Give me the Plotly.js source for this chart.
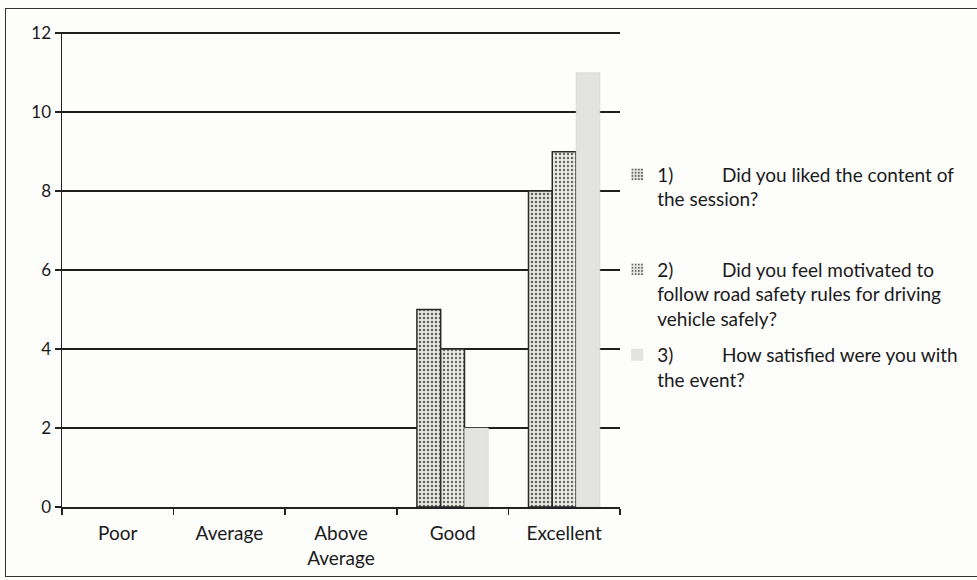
<!DOCTYPE html>
<html>
<head>
<meta charset="utf-8">
<script src="https://cdn.plot.ly/plotly-3.0.1.min.js"></script>
<style>
  html, body { margin: 0; padding: 0; background: #fdfdfc; }
  #frame { position: absolute; left: 5px; top: 8px; width: 990px; height: 569px; border: 1.5px solid #333; box-sizing: border-box; }
  #chart { position: absolute; left: 0; top: 0; width: 977px; height: 580px; }
</style>
</head>
<body>
<div id="frame"></div>
<div id="chart"></div>
<script>
const categories = ['Poor', 'Average', 'Above<br>Average', 'Good', 'Excellent'];
const q1Name = '1)&nbsp;&nbsp;&nbsp;&nbsp;&nbsp;&nbsp;&nbsp;&nbsp;&nbsp;&nbsp;Did you liked the content of<br>the session?';
const q2Name = '2)&nbsp;&nbsp;&nbsp;&nbsp;&nbsp;&nbsp;&nbsp;&nbsp;&nbsp;&nbsp;Did you feel motivated to<br>follow road safety rules for driving<br>vehicle safely?';
const q3Name = '3)&nbsp;&nbsp;&nbsp;&nbsp;&nbsp;&nbsp;&nbsp;&nbsp;&nbsp;&nbsp;How satisfied were you with<br>the event?';
const q1Values = [0, 0, 0, 5, 8];
const q2Values = [0, 0, 0, 4, 9];
const q3Values = [0, 0, 0, 2, 11];
const yTicks = [0, 2, 4, 6, 8, 10, 12];

const font = 'Lato, "Open Sans", "DejaVu Sans", sans-serif';
const outline = (vals, w) => vals.map(v => (v > 0 ? w : 0));

const traces = [
  {
    type: 'bar', x: categories, y: q1Values, name: q1Name, legend: 'legend',
    marker: { color: '#8a8a86', line: { color: '#2a2a2a', width: outline(q1Values, 1.5) },
      pattern: { shape: '.', bgcolor: '#e8e8e3', fgcolor: '#5e5e5a', size: 4, solidity: 0.32 } }
  },
  {
    type: 'bar', x: categories, y: q2Values, name: q2Name, legend: 'legend2',
    marker: { color: '#8a8a86', line: { color: '#2a2a2a', width: outline(q2Values, 1.5) },
      pattern: { shape: '.', bgcolor: '#ebebe6', fgcolor: '#646462', size: 4, solidity: 0.28 } }
  },
  {
    type: 'bar', x: categories, y: q3Values, name: q3Name, legend: 'legend3',
    marker: { color: '#e3e3e1', line: { color: '#cfcfcf', width: outline(q3Values, 0.5) } }
  }
];

const legendBase = {
  xref: 'paper', yref: 'paper', xanchor: 'left', yanchor: 'top',
  bgcolor: 'rgba(0,0,0,0)', valign: 'top',
  font: { family: font, size: 19, color: '#1a1a1a' },
  itemwidth: 30
};

const layout = {
  width: 977, height: 580,
  margin: { l: 62, r: 357, t: 32, b: 73 },
  paper_bgcolor: 'rgba(0,0,0,0)',
  plot_bgcolor: 'rgba(0,0,0,0)',
  barmode: 'group',
  bargap: 0.36,
  bargroupgap: 0,
  showlegend: true,
  font: { family: font, color: '#1a1a1a' },
  xaxis: {
    type: 'category',
    tickson: 'boundaries',
    ticks: 'outside', ticklen: 6, tickwidth: 1.5, tickcolor: '#222',
    showline: true, linecolor: '#222', linewidth: 2,
    showgrid: false,
    ticklabelstandoff: 8,
    tickfont: { family: font, size: 19, color: '#1a1a1a' },
    fixedrange: true
  },
  yaxis: {
    range: [0, 12.03],
    tickvals: yTicks,
    ticktext: yTicks.map(String),
    ticks: 'outside', ticklen: 6, tickwidth: 1.5, tickcolor: '#222',
    showline: true, linecolor: '#222', linewidth: 1.5,
    showgrid: true, gridcolor: '#1e1e1e', gridwidth: 2,
    zeroline: false,
    tickfont: { family: font, size: 17, color: '#1a1a1a' },
    fixedrange: true
  },
  legend: Object.assign({}, legendBase, { x: 0.995, y: 0.74 }),
  legend2: Object.assign({}, legendBase, { x: 0.995, y: 0.54 }),
  legend3: Object.assign({}, legendBase, { x: 0.995, y: 0.36 })
};

Plotly.newPlot('chart', traces, layout, { displayModeBar: false, staticPlot: true });
</script>
</body>
</html>
